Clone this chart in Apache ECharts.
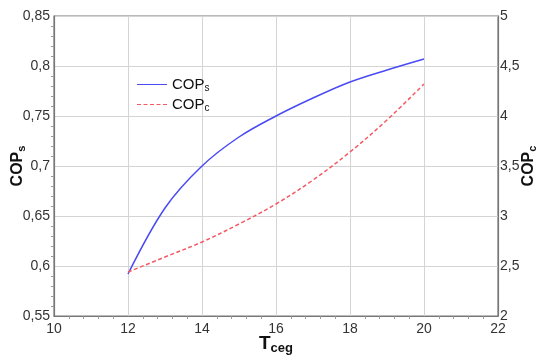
<!DOCTYPE html>
<html>
<head>
<meta charset="utf-8">
<script src="https://cdn.jsdelivr.net/npm/echarts@6/dist/echarts.min.js"></script>
<style>
  html, body { margin: 0; padding: 0; background: #fff; }
  #chart { width: 537px; height: 358px; }
</style>
</head>
<body>
<div id="chart"></div>
<script>
// Tceg values and the two COP curves
const tceg = [12, 13, 14, 15, 16, 17, 18, 19, 20];
const copS = [0.592, 0.658, 0.700, 0.729, 0.750, 0.768, 0.784, 0.796, 0.807];
const copC = [2.44, 2.59, 2.74, 2.92, 3.12, 3.36, 3.64, 3.96, 4.32];

const font = 'Liberation Sans, Arial, sans-serif';
const narrow = 'Liberation Sans Narrow, Liberation Sans, Arial, sans-serif';
const comma = (v) => String(+v.toFixed(2)).replace('.', ',');

const subRich = {
  m: { fontFamily: font, fontSize: 16, fontWeight: 'bold', color: '#111' },
  s: { fontFamily: font, fontSize: 11, fontWeight: 'bold', color: '#111', padding: [8, 0, 0, 0] },
};
const legRich = {
  m: { fontFamily: font, fontSize: 15, color: '#111' },
  s: { fontFamily: font, fontSize: 10, color: '#111', padding: [7, 0, 0, 0] },
};

const axisCommon = {
  axisLine: { show: true, lineStyle: { color: '#777', width: 1.2 } },
  axisTick: { show: false },
  minorTick: { show: true, splitNumber: 5, length: 3, lineStyle: { color: '#999' } },
  splitLine: { show: true, lineStyle: { color: '#d4d4d4', width: 1 } },
  axisLabel: { fontFamily: font, fontSize: 14, color: '#333', formatter: comma },
  nameMoveOverlap: false,
};

const chart = echarts.init(document.getElementById('chart'));
chart.setOption({
  animation: false,
  grid: {
    left: 54, right: 39, top: 16, bottom: 42, outerBoundsMode: 'none', containLabel: false,
    show: true, borderColor: '#777', borderWidth: 1.2,
  },
  legend: {
    left: 132, top: 72, orient: 'vertical', itemGap: 4,
    itemWidth: 30, itemHeight: 14,
    textStyle: { rich: legRich },
    formatter: (n) => n === 'COPs' ? '{m|COP}{s|s}' : '{m|COP}{s|c}',
    data: [
      { name: 'COPs', icon: 'path://M0,6.5H30V7.5H0Z' },
      { name: 'COPc', icon: 'path://M0,6.5H4V7.5H0ZM6.5,6.5H10.5V7.5H6.5ZM13,6.5H17V7.5H13ZM19.5,6.5H23.5V7.5H19.5ZM26,6.5H30V7.5H26Z' },
    ],
  },
  xAxis: Object.assign({}, axisCommon, {
    type: 'value', min: 10, max: 22, interval: 2,
    axisLabel: Object.assign({}, axisCommon.axisLabel, { margin: 6 }),
    name: '{m|T}{s|ceg}', nameLocation: 'middle', nameGap: 16,
    nameTextStyle: { rich: { m: { fontFamily: font, fontSize: 19, fontWeight: 'bold', color: '#111' }, s: { fontFamily: font, fontSize: 13, fontWeight: 'bold', color: '#111', padding: [10, 0, 0, 0] } } },
  }),
  yAxis: [
    Object.assign({}, axisCommon, {
      type: 'value', min: 0.55, max: 0.85, interval: 0.05,
      axisLabel: Object.assign({}, axisCommon.axisLabel, { margin: 4 }),
      name: '{m|COP}{s|s}', nameLocation: 'middle', nameGap: 27,
      nameTextStyle: { rich: subRich },
    }),
    Object.assign({}, axisCommon, {
      type: 'value', min: 2, max: 5, interval: 0.5, position: 'right',
      splitLine: { show: false },
      minorTick: { show: false },
      axisLabel: Object.assign({}, axisCommon.axisLabel, { margin: 2, fontFamily: narrow, fontSize: 14 }),
      name: '{m|COP}{s|c}', nameLocation: 'middle', nameGap: 21,
      nameTextStyle: { rich: subRich },
    }),
  ],
  series: [
    {
      name: 'COPs', type: 'line', yAxisIndex: 0, smooth: 0.35, showSymbol: false,
      lineStyle: { color: '#4a4af5', width: 1.5 }, itemStyle: { color: '#4a4af5' },
      data: tceg.map((t, i) => [t, copS[i]]),
    },
    {
      name: 'COPc', type: 'line', yAxisIndex: 1, smooth: 0.35, showSymbol: false,
      lineStyle: { color: '#f45a64', width: 1.5, type: [4, 2.5] }, itemStyle: { color: '#f45a64' },
      data: tceg.map((t, i) => [t, copC[i]]),
    },
  ],
});
</script>
</body>
</html>
